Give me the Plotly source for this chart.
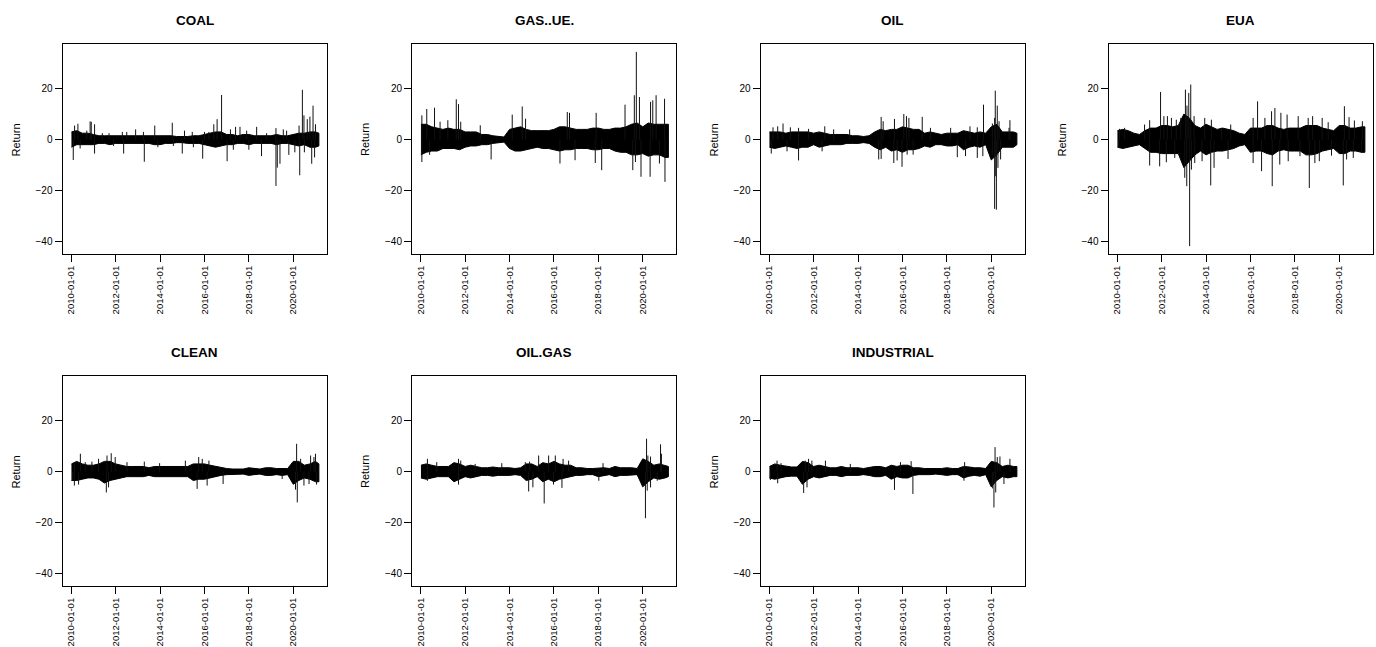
import plotly.graph_objects as go
import pandas as pd

# ---------------- data ----------------
PANELS = ["COAL", "GAS..UE.", "OIL", "EUA", "CLEAN", "OIL.GAS", "INDUSTRIAL"]

# envelope sample dates: quarter starts 2010Q1..2021Q1 plus last observation
BAND_DATES = ["2010-01-04"] + [f"{y}-{m:02d}-01" for y in range(2010, 2022) for m in (1, 4, 7, 10)
                               if not (y == 2010 and m == 1) and not (y == 2021 and m > 1)] + ["2021-02-26"]

# upper / lower edge of the dense black band of daily returns, per quarter
COAL_UP = [3, 3.5, 2.5, 2.5, 2, 1.5, 1.5, 1.5, 1.5, 1.5, 1.5, 1.5, 1.5, 1.5, 1.5, 1.5, 1.5, 1.5, 1.5, 1.2, 1.2, 1.2, 1.5, 1.5,
           2, 2.5, 3, 3, 2, 2, 1.5, 2, 2, 1.5, 1.5, 1.5, 1.5, 2, 1.5, 1.5, 2, 2.5, 2.5, 3, 3, 2.5]
COAL_LO = [-3, -2, -2, -2, -2, -1.5, -1.5, -2, -1.5, -1.5, -1.5, -1.5, -1.5, -1.5, -1.5, -2, -2, -1.5, -1.5, -1.2, -1.2, -1.5, -1.5, -1.5,
           -2, -2.5, -3, -2.5, -2, -2, -1.5, -1.5, -2, -1.5, -1.5, -1.5, -1.5, -2, -1.5, -1.5, -2, -2.5, -2, -3, -3, -2.5]
COAL_SPIKE_T = [2010.15, 2010.3, 2010.7, 2010.85, 2010.9, 2011.05, 2011.4, 2011.7, 2012.3, 2012.5, 2012.9, 2013.25, 2013.76,
                2014.55, 2015.1, 2015.45, 2016.0, 2016.2, 2016.42, 2016.57, 2016.77, 2017.17, 2017.4, 2017.6, 2017.9, 2018.35,
                2018.8, 2019.22, 2019.55, 2019.7, 2020.26, 2020.41, 2020.48, 2020.63, 2020.75, 2020.89, 2021.0,
                2010.09, 2010.4, 2011.05, 2011.9, 2012.36, 2013.29, 2013.9, 2014.6, 2015.0, 2015.5, 2015.92, 2017.02, 2017.3,
                2018.0, 2018.57, 2019.22, 2019.28, 2019.4, 2019.8, 2020.07, 2020.29, 2020.5, 2020.83, 2020.96]
COAL_SPIKE_V = [5.5, 6.2, 3.5, 7.1, 7.0, 6.0, 2.5, 2.5, 3.0, 3.0, 4.0, 3.0, 5.5,
                6.6, 3.5, 3.0, 3.0, 3.0, 6.0, 8.0, 17.5, 4.0, 5.0, 5.0, 3.5, 5.0,
                2.5, 4.5, 4.0, 3.5, 5.5, 19.5, 9.5, 8.0, 9.0, 13.3, 6.0,
                -8.0, -3.5, -5.5, -2.5, -5.5, -8.7, -3.0, -2.5, -5.5, -3.0, -7.5, -8.5, -4.0,
                -4.0, -6.5, -18.2, -11.0, -9.5, -6.0, -5.0, -14.0, -5.0, -9.5, -7.0]

GAS_UP = [6, 6, 5, 4.5, 4, 4.5, 4, 4, 3, 3, 3, 2, 2, 1.5, 1.2, 1, 4, 4.5, 5, 4, 3.5, 3.5, 3.5, 3.5,
          4, 5, 5, 4.5, 4, 4, 4, 4.5, 4.5, 4, 4, 4.5, 4.5, 5, 6, 6.5, 5, 6.5, 6, 6, 6, 6]
GAS_LO = [-6, -5, -4.5, -4.5, -3.5, -3.5, -3.5, -4, -3, -2.5, -2.5, -2, -2, -1.5, -1.2, -1, -3.5, -4.5, -4.5, -4, -3.5, -3, -3.5, -3.5,
          -4, -4.5, -4, -4, -3.5, -3.5, -3.5, -4, -4, -3.5, -3.5, -4.5, -5, -5, -6, -6, -5.5, -6.5, -6, -6, -7, -7]
GAS_SPIKE_T = [2010.05, 2010.27, 2010.62, 2010.87, 2011.22, 2011.6, 2011.7, 2011.8, 2012.68, 2014.12, 2014.57, 2014.72,
               2016.6, 2016.7, 2017.9, 2019.2, 2019.62, 2019.71, 2019.85, 2020.35, 2020.45, 2020.6, 2020.98,
               2010.05, 2010.4, 2013.17, 2016.27, 2016.95, 2017.86, 2018.15, 2019.55, 2019.67, 2019.92, 2020.33,
               2020.75, 2021.0]
GAS_SPIKE_V = [9.5, 12.0, 12.5, 7.0, 7.6, 15.8, 13.9, 7.0, 5.6, 9.8, 13.0, 8.2,
               10.8, 10.5, 10.5, 13.7, 17.4, 34.4, 16.7, 14.8, 15.4, 17.4, 16.0,
               -8.8, -6.0, -7.8, -9.4, -8.1, -9.2, -12.0, -12.0, -8.8, -14.6, -14.6,
               -9.4, -16.6]

OIL_UP = [3, 3, 3, 2.5, 3, 3, 3, 3, 2.5, 3, 2.5, 2, 2, 2, 2, 1.5, 1.5, 1.2, 1.5, 3, 4, 3.5, 4, 4,
          5, 4.5, 4, 4, 2.5, 3, 2.5, 2, 2.5, 2.5, 2.5, 3.5, 3, 2.5, 3, 2.5, 5, 6, 3, 3, 3, 2.5]
OIL_LO = [-3, -3.5, -3, -2.5, -3, -3.5, -3, -3, -2, -3, -2.5, -2, -2, -2, -1.5, -1.5, -1.5, -1.2, -1.5, -3, -4, -3, -4.5, -4,
          -5, -4, -4, -3.5, -2.5, -3, -2, -2, -2.5, -2.5, -2, -4, -3, -2.5, -3, -2, -8, -6, -3, -3, -3, -2]
OIL_SPIKE_T = [2010.17, 2010.38, 2010.62, 2010.95, 2011.32, 2011.77, 2012.5, 2012.9, 2013.62, 2015.04, 2015.13, 2015.64,
               2016.06, 2016.18, 2016.29, 2016.89, 2017.26, 2018.17, 2019.04, 2019.37, 2019.65, 2020.05, 2020.15, 2020.18,
               2020.27, 2020.35, 2020.8, 2020.84,
               2010.09, 2010.8, 2011.32, 2012.38, 2014.93, 2015.04, 2015.61, 2015.76, 2015.98, 2016.21, 2016.48, 2018.47,
               2018.84, 2019.37, 2019.62, 2020.05, 2020.15, 2020.2, 2020.23, 2020.3, 2020.42]
OIL_SPIKE_V = [4.8, 5.2, 6.3, 4.8, 4.6, 4.2, 5.2, 4.0, 4.0, 8.9, 7.2, 8.1,
               10.0, 9.2, 8.5, 8.9, 4.6, 4.6, 5.2, 4.8, 13.7, 6.3, 8.5, 19.2,
               13.3, 7.2, 4.6, 7.6,
               -5.5, -4.6, -8.2, -4.6, -7.8, -7.6, -9.2, -8.2, -10.7, -5.9, -5.9, -6.9,
               -6.5, -7.2, -6.5, -6.3, -27.2, -14.4, -27.5, -11.1, -7.8]

EUA_UP = [3.5, 4, 3.5, 2.5, 2, 3.5, 4.5, 4.5, 5.5, 5.5, 5, 5.5, 10, 8.5, 5.5, 4.5, 6, 5, 4, 4.5, 4, 3.5, 2.5, 2,
          4.5, 4.5, 4.5, 5.5, 5.5, 4.5, 4, 4.5, 4.5, 4.5, 5.5, 5.5, 5.5, 4.5, 4, 3.5, 5.5, 5.5, 4.5, 4.5, 5, 5]
EUA_LO = [-3, -3.5, -3, -2.5, -2, -3.5, -5, -5, -5.5, -5.5, -5.5, -5.5, -11, -8.5, -6, -4.5, -6, -5, -4.5, -4.5, -4, -3.5, -2.5, -2,
          -5, -4.5, -4.5, -5.5, -6, -4.5, -4, -4.5, -4.5, -4.5, -6, -6, -5.5, -4.5, -4, -3.5, -5.5, -5.5, -4.5, -4.5, -5, -5]
EUA_SPIKE_T = [2010.1, 2010.33, 2011.23, 2011.46, 2011.95, 2012.1, 2012.26, 2012.44, 2012.66, 2012.86, 2013.07, 2013.14,
               2013.22, 2013.31, 2013.46, 2013.94, 2014.24, 2014.69, 2015.11, 2016.12, 2016.32, 2016.65, 2016.95, 2017.1,
               2017.37, 2017.65, 2018.15, 2018.6, 2018.8, 2019.23, 2019.5, 2020.23, 2020.44, 2020.68, 2021.04,
               2010.06, 2011.46, 2011.91, 2012.21, 2012.59, 2013.04, 2013.13, 2013.26, 2013.34, 2013.49, 2013.82, 2014.21,
               2014.36, 2014.99, 2016.12, 2016.5, 2016.98, 2017.32, 2017.7, 2018.23, 2018.65, 2018.9, 2019.1, 2019.65,
               2020.18, 2020.33, 2020.63, 2021.0]
EUA_SPIKE_V = [4.2, 4.6, 5.9, 7.6, 18.7, 9.2, 9.2, 8.5, 7.8, 8.5, 19.6, 13.3,
               18.3, 21.6, 9.2, 8.5, 7.8, 4.6, 5.9, 8.5, 15.0, 8.5, 11.1, 12.4,
               10.5, 9.8, 9.2, 8.5, 9.2, 8.5, 6.8, 13.1, 8.8, 7.5, 7.2,
               -3.3, -10.2, -10.5, -8.9, -7.2, -15.0, -18.3, -41.8, -11.8, -9.2, -8.5, -18.0,
               -11.1, -7.6, -9.2, -12.4, -18.3, -9.8, -8.5, -6.5, -19.0, -9.2, -8.5, -6.3,
               -18.0, -7.8, -7.2, -5.2]

CLEAN_UP = [3, 4, 3, 2.5, 2.5, 3, 4, 4, 3, 2.5, 2, 2, 2, 2, 1.5, 2, 2, 2, 2, 2, 2, 2, 3, 3,
            3, 2.5, 2, 1.5, 1.2, 1, 1, 1, 1.5, 1.2, 1, 1.5, 1.5, 1.2, 1.2, 1.2, 4, 4, 2.5, 3, 4, 3]
CLEAN_LO = [-3.5, -3.5, -3, -2.5, -2.5, -3, -4.5, -3.5, -3, -2.5, -2, -2, -2, -2, -1.5, -2, -2, -2, -2, -2, -2, -2, -3.5, -3,
            -3, -2.5, -2, -1.5, -1.2, -1, -1, -1, -1.5, -1.2, -1, -1.5, -1.5, -1.2, -1.5, -1.2, -5, -3.5, -2.5, -3, -4, -4]
CLEAN_SPIKE_T = [2010.14, 2010.41, 2010.63, 2010.93, 2011.23, 2011.61, 2011.8, 2011.98, 2012.51, 2013.29, 2013.98, 2015.14,
                 2015.74, 2015.9, 2016.2, 2020.15, 2020.33, 2020.78, 2020.93, 2021.0,
                 2010.06, 2010.14, 2010.33, 2011.58, 2011.68, 2015.67, 2016.12, 2016.84, 2019.5, 2020.1, 2020.18, 2020.48,
                 2020.71, 2021.05]
CLEAN_SPIKE_V = [3.7, 7.0, 3.7, 3.9, 5.0, 6.3, 7.2, 5.7, 3.7, 3.9, 3.3, 4.3,
                 5.7, 5.0, 4.3, 10.9, 5.0, 6.3, 5.7, 7.0,
                 -3.6, -5.5, -5.1, -8.2, -6.2, -6.8, -5.5, -4.9, -2.9, -7.1, -12.1, -5.5,
                 -4.9, -5.1]

OILGAS_UP = [2.5, 3, 2.5, 2, 2, 2, 3.5, 3, 2, 2.5, 2, 1.5, 1.5, 1.8, 1.5, 1.5, 1.5, 1.2, 1.5, 3, 3, 2, 3.5, 3,
             4, 3, 2.5, 2.5, 1.5, 1.5, 1.2, 1.2, 1.5, 1.5, 1.2, 2, 1.5, 1.5, 1.5, 1.2, 5, 4, 2.5, 3, 2.5, 2]
OILGAS_LO = [-2.5, -3, -2.5, -2, -2, -2, -4, -3, -2, -2.5, -2, -1.5, -1.5, -1.8, -1.5, -1.5, -1.5, -1.2, -1.5, -3.5, -3, -2, -4, -3,
             -4, -3, -2.5, -2, -1.5, -1.5, -1.2, -1.2, -2, -1.5, -1.2, -2, -1.5, -1.5, -1.5, -1.2, -6, -4, -2.5, -3, -2.5, -2]
OILGAS_SPIKE_T = [2010.3, 2010.72, 2011.7, 2011.8, 2012.45, 2013.65, 2014.71, 2014.9, 2015.31, 2015.76, 2016.06, 2016.41,
                  2016.66, 2018.21, 2020.17, 2020.23, 2020.35, 2020.8, 2020.84,
                  2010.3, 2011.7, 2014.86, 2015.05, 2015.56, 2015.98, 2016.36, 2018.02, 2020.12, 2020.2, 2020.35, 2020.65]
OILGAS_SPIKE_V = [5.0, 3.7, 5.0, 4.3, 3.0, 3.3, 3.7, 3.9, 6.3, 6.3, 6.3, 5.0,
                  4.3, 3.3, 12.9, 6.3, 5.9, 10.7, 7.0,
                  -3.6, -5.1, -7.8, -6.2, -12.5, -5.1, -6.4, -3.6, -18.3, -7.5, -6.2, -3.6]

IND_UP = [2, 3, 2.5, 2, 1.8, 1.8, 4, 3.5, 2, 2.5, 2, 1.5, 1.5, 2, 1.5, 1.5, 1.5, 1.2, 1.5, 2, 2, 1.5, 2.5, 2,
          2.5, 2.5, 1.5, 1.5, 1.2, 1.2, 1, 1.2, 1.5, 1.2, 1.2, 2, 1.8, 1.5, 1.5, 1.2, 4, 3.5, 2, 2.5, 2, 2]
IND_LO = [-2.5, -3, -2.5, -2, -1.8, -1.8, -5, -3, -2, -2.5, -2, -1.5, -1.5, -2, -1.5, -1.5, -1.5, -1.2, -1.5, -2, -2, -1.5, -3, -2,
          -2.5, -2.5, -1.5, -1.2, -1.2, -1.2, -1, -1.2, -1.5, -1.2, -1.2, -2.5, -1.8, -1.5, -1.8, -1.2, -6, -3.5, -2, -2.5, -2, -2]
IND_SPIKE_T = [2010.35, 2010.53, 2011.62, 2011.77, 2011.92, 2012.53, 2013.65, 2015.91, 2016.39, 2018.8, 2020.17, 2020.27,
               2020.39, 2020.84,
               2010.05, 2010.38, 2011.55, 2011.7, 2015.64, 2016.47, 2018.77, 2020.05, 2020.12, 2020.2, 2020.57]
IND_SPIKE_V = [4.3, 3.3, 4.3, 5.0, 4.3, 4.3, 3.0, 3.7, 4.1, 3.7, 9.6, 5.7,
               5.9, 5.0,
               -3.3, -4.6, -8.4, -6.2, -7.2, -8.8, -3.6, -6.6, -14.1, -8.2, -4.9]

SERIES = {
    "COAL": (COAL_UP, COAL_LO, COAL_SPIKE_T, COAL_SPIKE_V),
    "GAS..UE.": (GAS_UP, GAS_LO, GAS_SPIKE_T, GAS_SPIKE_V),
    "OIL": (OIL_UP, OIL_LO, OIL_SPIKE_T, OIL_SPIKE_V),
    "EUA": (EUA_UP, EUA_LO, EUA_SPIKE_T, EUA_SPIKE_V),
    "CLEAN": (CLEAN_UP, CLEAN_LO, CLEAN_SPIKE_T, CLEAN_SPIKE_V),
    "OIL.GAS": (OILGAS_UP, OILGAS_LO, OILGAS_SPIKE_T, OILGAS_SPIKE_V),
    "INDUSTRIAL": (IND_UP, IND_LO, IND_SPIKE_T, IND_SPIKE_V),
}

X_TICKS = ["2010-01-01", "2012-01-01", "2014-01-01", "2016-01-01", "2018-01-01", "2020-01-01"]
Y_TICKS = [-40, -20, 0, 20]

# ---------------- layout geometry (pixels) ----------------
W, H = 1376, 647
PW, PH = 264, 210
LEFTS = [62.5, 412, 760.5, 1108.5]
TOPS = [44, 376]
FONT = "Liberation Sans, Arial, sans-serif"


def to_date(t):
    return pd.Timestamp("2010-01-01") + pd.to_timedelta((t - 2010.0) * 365.25, unit="D")


fig = go.Figure()
annotations = []
layout_axes = {}

for i, name in enumerate(PANELS):
    row, col = divmod(i, 4)
    left, top = LEFTS[col], TOPS[row]
    xd = [left / W, (left + PW) / W]
    yd = [1 - (top + PH) / H, 1 - top / H]
    k = "" if i == 0 else str(i + 1)
    xa, ya = "x" + k, "y" + k

    up, lo, st, sv = SERIES[name]
    bx = list(BAND_DATES) + list(BAND_DATES[::-1])
    fig.add_trace(go.Scatter(x=bx, y=list(up) + list(lo[::-1]), mode="lines", fill="toself",
                             fillcolor="black", line=dict(color="black", width=1),
                             xaxis=xa, yaxis=ya, showlegend=False, hoverinfo="skip"))
    sx, sy = [], []
    for t, v in zip(st, sv):
        d = to_date(t)
        sx += [d, d, None]
        sy += [0, v, None]
    fig.add_trace(go.Scatter(x=sx, y=sy, mode="lines", line=dict(color="#111111", width=1),
                             xaxis=xa, yaxis=ya, showlegend=False, hoverinfo="skip"))

    layout_axes["xaxis" + k] = dict(
        domain=xd, anchor=ya, type="date", range=["2009-08-10", "2021-07-01"],
        tickvals=X_TICKS, ticktext=X_TICKS, tickangle=-90, ticks="outside", ticklen=7,
        tickcolor="black", tickfont=dict(family=FONT, size=9.5, color="black"),
        showline=True, mirror=True, linecolor="black", linewidth=1,
        showgrid=False, zeroline=False)
    layout_axes["yaxis" + k] = dict(
        domain=yd, anchor=xa, range=[-44.9, 37.5], tickvals=Y_TICKS,
        ticks="outside", ticklen=7, tickcolor="black",
        tickfont=dict(family=FONT, size=10, color="black"),
        showline=True, mirror=True, linecolor="black", linewidth=1,
        showgrid=False, zeroline=False)

    annotations.append(dict(text="<b>" + name + "</b>", xref="paper", yref="paper",
                            x=(left + PW / 2) / W, y=1 - (top - 24) / H,
                            xanchor="center", yanchor="middle", showarrow=False,
                            font=dict(family=FONT, size=13.5, color="black")))
    annotations.append(dict(text="Return", xref="paper", yref="paper",
                            x=(left - 47) / W, y=1 - (top + 96) / H, textangle=-90,
                            xanchor="center", yanchor="middle", showarrow=False,
                            font=dict(family=FONT, size=11, color="black")))

fig.update_layout(width=W, height=H, margin=dict(l=0, r=0, t=0, b=0),
                  paper_bgcolor="white", plot_bgcolor="white",
                  annotations=annotations, **layout_axes)

fig.write_html("out.html", config={"displayModeBar": False},
               post_script="document.body.style.margin='0';")
